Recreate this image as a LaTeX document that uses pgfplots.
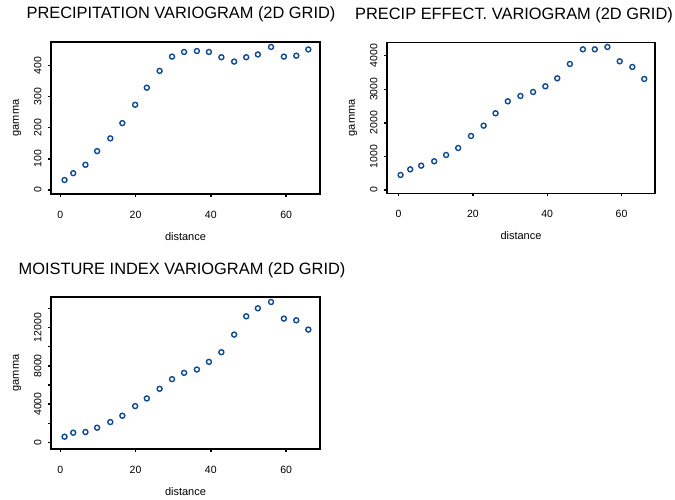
\documentclass[border=0pt]{standalone}
\usepackage{pgfplots}
\pgfplotsset{compat=1.18}
\usepackage{fontspec}
\setmainfont{Liberation Sans}
\definecolor{ptblue}{HTML}{0D4A93}
\pgfplotsset{
  vario/.style={
    scale only axis,
    axis line style={line width=1.1pt, black},
    tick align=outside, major tick length=3pt,
    tick style={line width=1.4pt, black},
    tick pos=left,
    xmin=-2.45, xmax=69, xtick={0,20,40,60},
    scaled y ticks=false,
    tick label style={font=\fontsize{10.5}{12}\selectfont},
    /pgf/number format/assume math mode=true,
    /pgf/number format/1000 sep={},
    xticklabel style={yshift=-10.5pt},
    yticklabel style={xshift=-3pt, rotate=90, anchor=south},
    label style={font=\fontsize{11}{13}\selectfont},
    xlabel={distance}, ylabel={gamma},
    xlabel style={at={(axis description cs:0.5,-0.3026)}, anchor=base},
    ylabel style={at={(axis description cs:-0.1264,0.5)}, anchor=center},
    every axis title shift=0pt,
    title style={font=\fontsize{16.4}{19}\selectfont, anchor=base},
    clip=false,
  },
  vpts/.style={only marks, mark=o, mark size=2.5pt, line width=1.4pt, draw=ptblue, mark options={draw=ptblue, fill=none, solid}},
}
\begin{document}
\begin{tikzpicture}
\useasboundingbox (0pt,0pt) rectangle (675pt,-499pt);
\begin{axis}[vario, at={(51pt,-194pt)}, anchor=south west, width=269pt, height=152pt,
  ymin=-13, ymax=476, ytick={0,100,200,300,400},
  title={PRECIPITATION VARIOGRAM (2D GRID)},
  title style={at={(axis description cs:0.4833,1.1513)}}]
\addplot[vpts] coordinates {
(1.15,32) (3.45,54) (6.7,81) (9.8,125) (13.3,166) (16.5,215) (19.9,274)
(23.0,329) (26.4,383) (29.7,429) (32.9,444) (36.3,447) (39.5,444) (42.8,427)
(46.2,413) (49.4,427) (52.5,436) (56.0,460) (59.4,429) (62.7,432) (65.9,452)
};
\end{axis}
\begin{axis}[vario, at={(387pt,-193.3pt)}, anchor=south west, width=268pt, height=151pt,
  xmin=-3.1, xmax=69,
  ymin=-99, ymax=4397, ytick={0,1000,2000,3000,4000},
  title={PRECIP EFFECT. VARIOGRAM (2D GRID)},
  title style={at={(axis description cs:0.4739,1.1523)}}]
\addplot[vpts] coordinates {
(0.55,447) (3.15,615) (6.1,724) (9.6,854) (12.8,1042) (16.05,1250) (19.5,1608)
(22.9,1915) (26.1,2283) (29.4,2640) (32.8,2799) (36.2,2918) (39.5,3087) (42.7,3325)
(46.1,3752) (49.6,4188) (52.8,4188) (56.2,4258) (59.5,3831) (62.9,3662) (66.1,3305)
};
\end{axis}
\begin{axis}[vario, at={(51pt,-449pt)}, anchor=south west, width=269pt, height=152pt,
  ymin=-696, ymax=15199, ytick={0,2000,4000,6000,8000,10000,12000,14000},
  yticklabels={0,,4000,,8000,,12000,},
  title={MOISTURE INDEX VARIOGRAM (2D GRID)},
  title style={at={(axis description cs:0.4870,1.1513)}}]
\addplot[vpts] coordinates {
(1.15,591) (3.45,1009) (6.7,1078) (9.8,1530) (13.3,2122) (16.5,2783) (19.9,3791)
(23.0,4591) (26.4,5600) (29.7,6608) (32.9,7269) (36.3,7617) (39.5,8417) (42.8,9426)
(46.2,11269) (49.4,13182) (52.5,14017) (56.0,14678) (59.4,12939) (62.7,12765) (65.9,11791)
};
\end{axis}
\end{tikzpicture}
\end{document}
